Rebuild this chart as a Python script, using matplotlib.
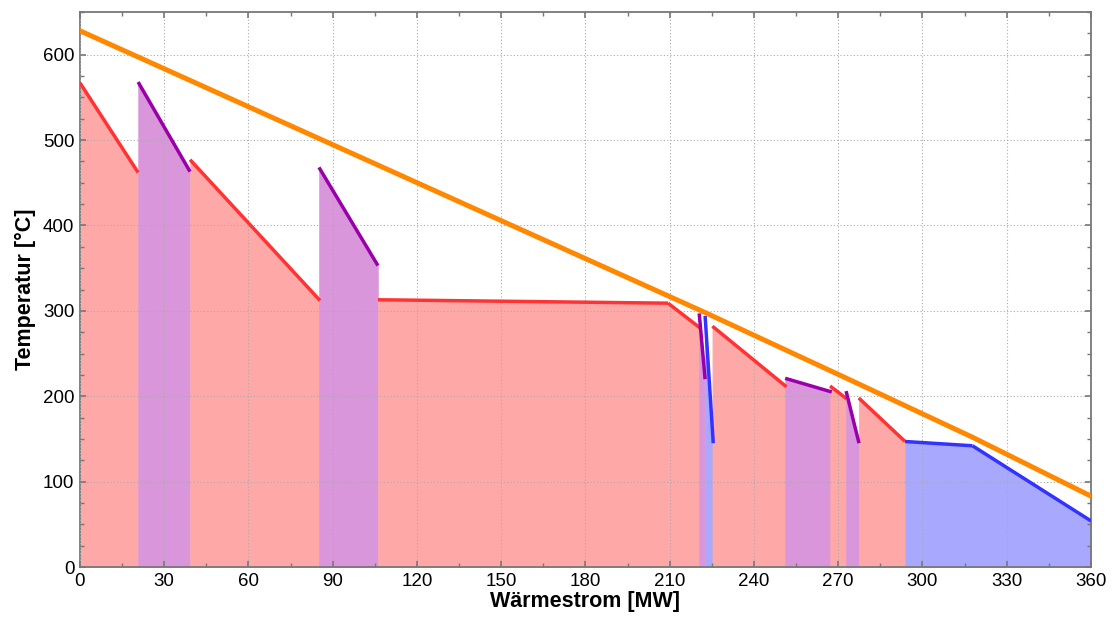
import numpy as np
import matplotlib.pyplot as plt
from matplotlib.ticker import MultipleLocator

plt.rcParams['font.family'] = ['Liberation Sans', 'DejaVu Sans']

# heat release segments of the hot side: (start, end) in MW and temperatures in degC
seg_q0 = [0.0, 20.7, 39.2, 85.1, 106.1, 209.4, 220.5, 222.6, 225.2, 251.1, 267.1, 272.8, 277.3, 293.8, 317.8]
seg_q1 = [20.7, 39.2, 85.5, 106.1, 209.4, 220.8, 222.6, 225.5, 251.6, 267.7, 273.0, 277.4, 293.8, 317.8, 360.0]
seg_t0 = [567, 568, 477, 468, 313, 309, 297, 294, 282, 221, 212, 206, 198, 147, 142]
seg_t1 = [462, 463, 312, 353, 309, 280, 220, 145, 211, 205, 197, 145, 147, 142, 54]
seg_kind = ['r', 'p', 'r', 'p', 'r', 'r', 'p', 'b', 'r', 'p', 'r', 'p', 'r', 'b', 'b']

# cold side (orange) composite curve
cold_q = [0, 222.6, 271.7, 317.8, 360]
cold_t = [628, 298, 223, 152, 83]

line_col = {'r': '#ff3333', 'p': '#9900aa', 'b': '#3333ff'}
fill_col = {'r': '#ffa8a8', 'p': '#da96da', 'b': '#a8a8ff'}

fig = plt.figure(figsize=(11.17, 6.22), dpi=100)
ax = fig.add_axes([0.0716, 0.0884, 0.9051, 0.8923])

for q0, q1, t0, t1, k in zip(seg_q0, seg_q1, seg_t0, seg_t1, seg_kind):
    ax.fill_between([q0, q1], [t0, t1], 0, facecolor=fill_col[k], edgecolor=fill_col[k],
                    lw=0.4, zorder=1)
for q0, q1, t0, t1, k in zip(seg_q0, seg_q1, seg_t0, seg_t1, seg_kind):
    ax.plot([q0, q1], [t0, t1], color=line_col[k], lw=2.5, zorder=3, solid_capstyle='butt')

ax.plot(cold_q, cold_t, color='#ff8800', lw=3.6, zorder=4)

ax.set_xlim(0, 360)
ax.set_ylim(0, 650)
ax.xaxis.set_major_locator(MultipleLocator(30))
ax.xaxis.set_minor_locator(MultipleLocator(15))
ax.yaxis.set_major_locator(MultipleLocator(100))
ax.yaxis.set_minor_locator(MultipleLocator(25))
ax.tick_params(which='both', direction='in', top=True, right=True, color='#777777',
               labelsize=13.5, pad=4)
ax.tick_params(which='major', length=4, width=1.2)
ax.tick_params(which='minor', length=3, width=1)
ax.set_axisbelow(False)
ax.grid(True, which='major', color='#aaaaaa', ls=(0, (1, 2)), lw=0.8, zorder=2)
for s in ax.spines.values():
    s.set_color('#777777')
    s.set_linewidth(1.3)

ax.set_xlabel('Wärmestrom [MW]', fontsize=15.5, fontweight='bold', labelpad=1)
ax.set_ylabel('Temperatur [°C]', fontsize=15.5, fontweight='bold', labelpad=5)

fig.savefig('out.png', dpi=100)
